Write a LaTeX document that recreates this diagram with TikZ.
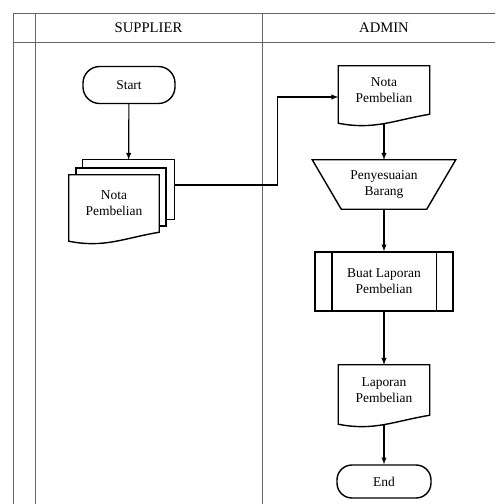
\documentclass[tikz,border=0pt]{standalone}
\usepackage{fontspec}
\setmainfont{Liberation Serif}
\usetikzlibrary{calc}

% document symbol with a wavy lower edge
\newcommand{\docoutline}[1]{%
  \draw [shapeline] (#1.north west) -- (#1.north east) -- (#1.south east)
    .. controls +(-36,6) and +(36,7) .. ($(#1.south west)+(0,9)$) -- cycle;}

\begin{document}
\begin{tikzpicture}[x=0.03cm, y=-0.03cm,
  shapeline/.style={draw=black, line width=1.2pt},
  flowline/.style={draw=black, line width=1pt, ->, >=latex},
  gridline/.style={draw=black!60, line width=0.7pt},
  terminal/.style={shapeline, rounded corners=0.5cm, align=center, inner sep=0pt},
  docbox/.style={align=center, inner sep=0pt, minimum width=2.73cm},
  every node/.style={font=\fontsize{11.5}{13.6}\selectfont}]

\useasboundingbox (0,0) rectangle (495,504);

% swimlanes
\draw [gridline] (13,13) -- (495,13);
\draw [gridline] (13,42) -- (495,42);
\draw [gridline] (13,13) -- (13,504);
\draw [gridline] (35,13) -- (35,504);
\draw [gridline] (262,13) -- (262,504);
\node (supplier) [font=\fontsize{12.5}{15}\selectfont] at (148.5,28) {SUPPLIER};
\node (admin) [font=\fontsize{12.5}{15}\selectfont] at (384,28) {ADMIN};

% supplier
\node (start) [terminal, minimum width=2.76cm, minimum height=1.11cm] at (129,85) {Start};
\node (notaback) [minimum width=2.73cm, minimum height=1.77cm] at (128.5,189.5) {};
\draw [shapeline] ($(notaback.north west)+(0,8)$) -- (notaback.north west) -- (notaback.north east) -- (notaback.south east) -- ++(-8,0);
\draw [shapeline] (76,175) -- (76,168) -- (166,168) -- (166,226) -- (159,226);
\node (multi) [docbox, minimum width=2.7cm, minimum height=1.71cm] at (114,203.5) {Nota\\Pembelian};
\docoutline{multi}

% admin
\node (nota) [docbox, minimum height=1.44cm] at (384,90) {Nota\\Pembelian};
\docoutline{nota}
\node (sesuai) [align=center, inner sep=0pt, minimum width=4.29cm, minimum height=1.47cm] at (384,184.5) {Penyesuaian\\Barang};
\draw [shapeline] (sesuai.north west) -- (sesuai.north east) -- ($(sesuai.south east)+(-29,0)$) -- ($(sesuai.south west)+(29,0)$) -- cycle;
\node (proses) [shapeline, align=center, inner sep=0pt, minimum width=4.14cm, minimum height=1.77cm] at (384,281.5) {Buat Laporan\\Pembelian};
\draw [shapeline] ($(proses.north west)+(17.5,0)$) -- ($(proses.south west)+(17.5,0)$);
\draw [shapeline] ($(proses.north east)+(-17.5,0)$) -- ($(proses.south east)+(-17.5,0)$);
\node (laporan) [docbox, minimum height=1.5cm] at (384,390) {Laporan\\Pembelian};
\docoutline{laporan}
\node (stop) [terminal, minimum width=2.82cm, minimum height=0.99cm, rounded corners=0.45cm] at (384,481.5) {End};

% connectors
\draw [flowline] (start) -- (notaback);
\draw [flowline] ([yshift=0.135cm]notaback.east) -- ++(103,0) |- ([yshift=-0.21cm]nota.west);
\draw [flowline] ([yshift=-0.3cm]nota.south) -- (sesuai);
\draw [flowline] (sesuai) -- (proses);
\draw [flowline] (proses) -- (laporan);
\draw [flowline] ([yshift=-0.3cm]laporan.south) -- (stop);
\end{tikzpicture}
\end{document}
